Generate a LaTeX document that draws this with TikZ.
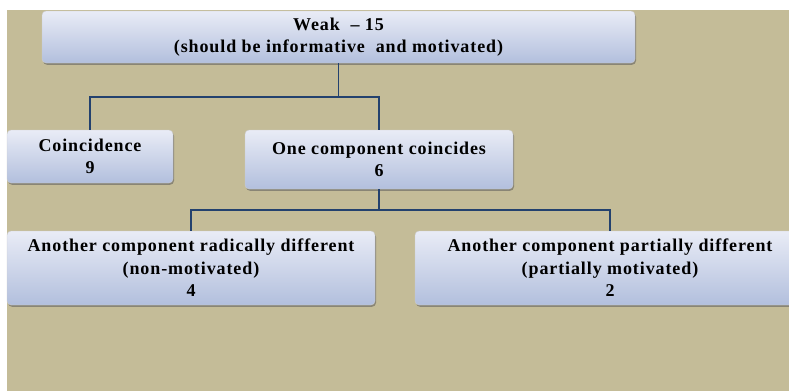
\documentclass[tikz,border=0pt]{standalone}
\usepackage{fontspec}
\setmainfont[LetterSpace=5]{Liberation Serif}
\usepackage{tikz}
\usetikzlibrary{shadows}

\definecolor{paper}{HTML}{C4BC98}
\definecolor{boxtop}{HTML}{E9ECF6}
\definecolor{boxbot}{HTML}{B2BFDD}
\definecolor{navy}{HTML}{23416E}

\begin{document}
\begin{tikzpicture}[x=1pt, y=-1pt,
      box/.style={rounded corners=4pt, top color=boxtop, bottom color=boxbot,
                  draw=gray!40, line width=0.4pt,
                  drop shadow={shadow xshift=1pt, shadow yshift=-1.8pt, opacity=0.55, fill=black!65},
                  font=\fontsize{18}{22.5}\selectfont\bfseries, align=center, inner sep=0pt},
      link/.style={navy, line width=1.6pt},
      ]
      \useasboundingbox (0,0) rectangle (789,391);
      \clip (0,0) rectangle (789,391);
      \fill[paper] (7,10) rectangle (789,391);

      % Top box
      \node[box, minimum width=593pt, minimum height=52pt] (weak) at (338.5,37)
      {Weak\ \ – 15\\(should be informative\ \ and motivated)};

      % Second level
      \node[box, minimum width=166pt, minimum height=53pt] (coinc) at (90,156.5)
      {Coincidence\\9};
      \node[box, minimum width=268pt, minimum height=59pt] (onecomp) at (379,159.5)
      {One component coincides\\6};

      % Third level
      \node[box, minimum width=368pt, minimum height=74pt] (radical) at (191,268)
      {Another component radically different\\(non-motivated)\\4};
      \node[box, minimum width=390pt, minimum height=74pt] (partial) at (610,268)
      {Another component partially different\\(partially motivated)\\2};

      % Connectors
      \draw[link] (weak.south) -- ++(0,34) -| (coinc.north);
      \draw[link] (weak.south) -- ++(0,34) -| (onecomp.north);
      \draw[link] (onecomp.south) -- ++(0,21) -| (radical.north);
      \draw[link] (onecomp.south) -- ++(0,21) -| (partial.north);
\end{tikzpicture}
\end{document}
